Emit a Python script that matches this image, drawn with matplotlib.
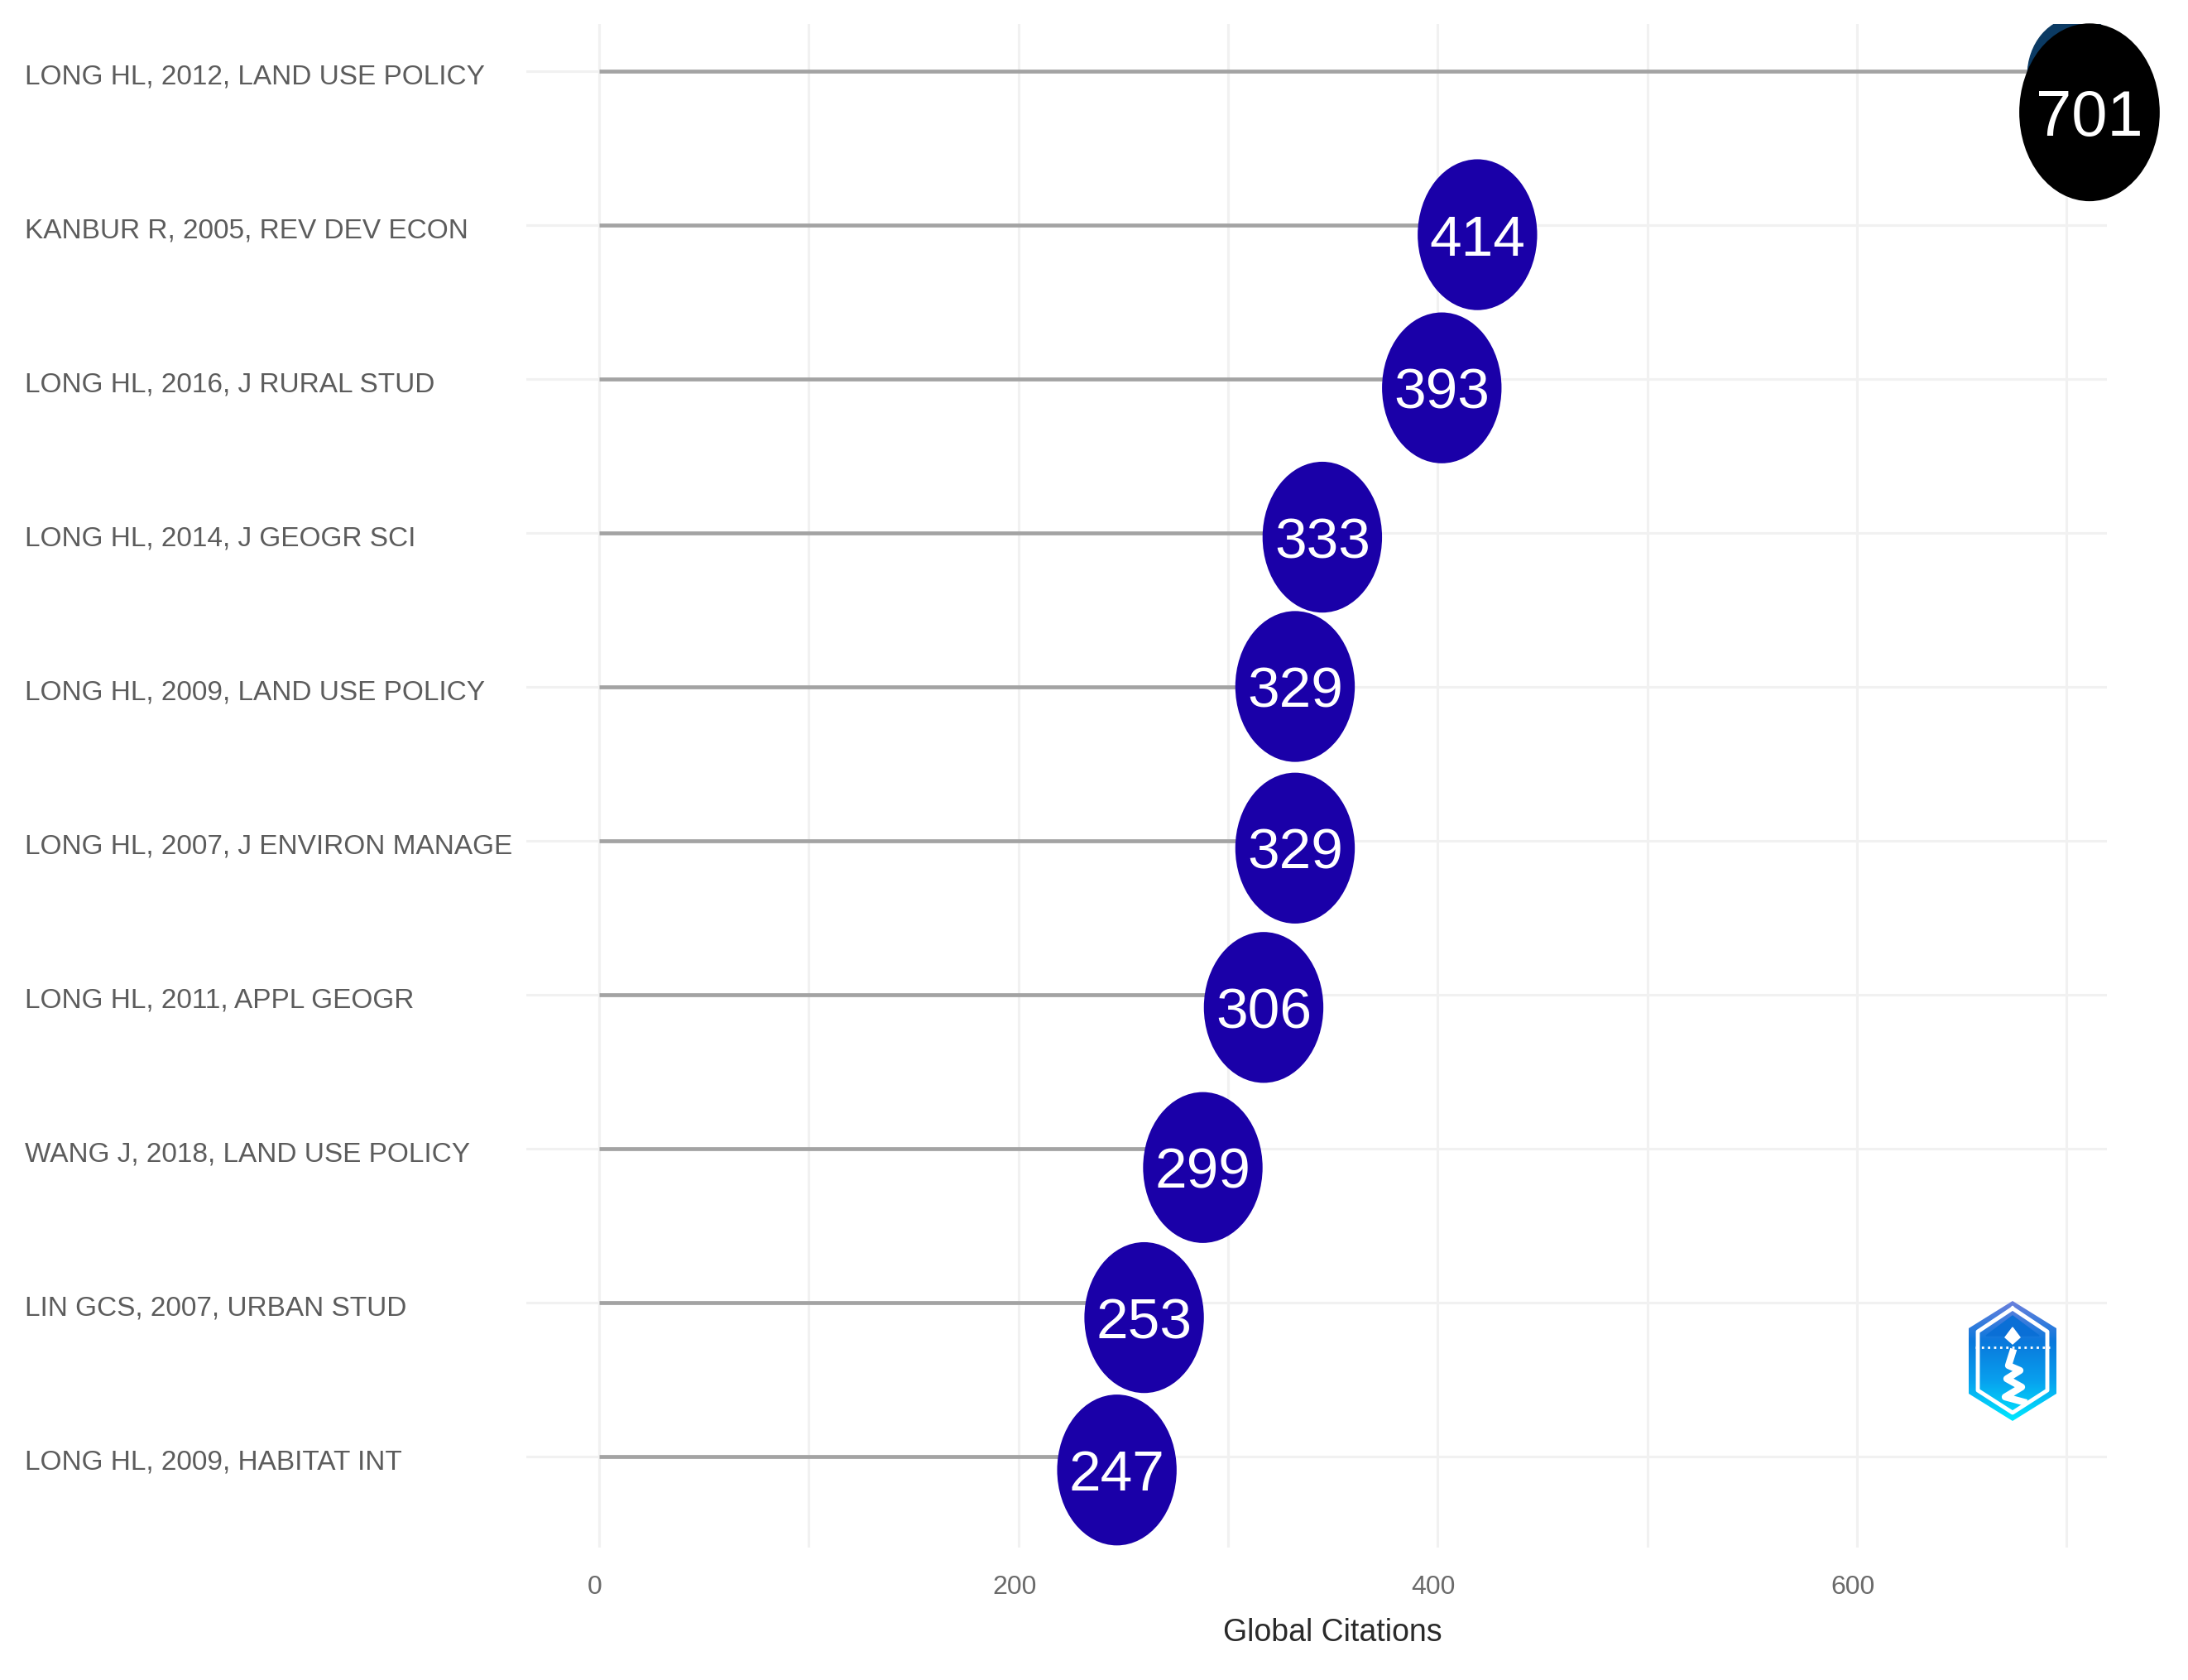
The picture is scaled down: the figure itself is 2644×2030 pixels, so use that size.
import matplotlib
matplotlib.use('Agg')
import matplotlib.pyplot as plt
import matplotlib.transforms as mtrans
from matplotlib.patches import Ellipse, Polygon
import numpy as np

papers = ['LONG HL, 2012, LAND USE POLICY', 'KANBUR R, 2005, REV DEV ECON',
          'LONG HL, 2016, J RURAL STUD', 'LONG HL, 2014, J GEOGR SCI',
          'LONG HL, 2009, LAND USE POLICY', 'LONG HL, 2007, J ENVIRON MANAGE',
          'LONG HL, 2011, APPL GEOGR', 'WANG J, 2018, LAND USE POLICY',
          'LIN GCS, 2007, URBAN STUD', 'LONG HL, 2009, HABITAT INT']
citations = [701, 414, 393, 333, 329, 329, 306, 299, 253, 247]
# where the bubbles sit on the axis, they do not quite line up with the printed value
bubble_x = [711, 419, 402, 345, 332, 332, 317, 288, 260, 247]
bubble_drop = [0.27, 0.065, 0.06, 0.03, 0.0, 0.05, 0.085, 0.125, 0.10, 0.09]
x_ticks = [0, 200, 400, 600]

W, H = 2644, 2030
fig = plt.figure(figsize=(W / 100, H / 100), dpi=100, facecolor='white')
left, right, top, bottom = 636, 2546, 29, 1870
ax = fig.add_axes([left / W, 1 - bottom / H, (right - left) / W, (bottom - top) / H])

row_h = 186
ax.set_xlim((left - 724) / 2.533, (right - 724) / 2.533)
ax.set_ylim((bottom - 85.5) / row_h, (top - 85.5) / row_h)
for s in ax.spines.values():
    s.set_visible(False)

rows = np.arange(len(papers))

ax.set_axisbelow(True)
ax.set_xticks(np.arange(0, 701, 100))
ax.set_xticklabels(['' if v not in x_ticks else str(v) for v in range(0, 701, 100)],
                   fontsize=23, color='#6a6a6a', family='Liberation Sans')
ax.set_yticks(rows)
ax.set_yticklabels(papers, fontsize=24, color='#5c5c5c', ha='left', family='Liberation Sans')
ax.tick_params(axis='y', length=0, pad=(left - 30) * 0.72)
ax.tick_params(axis='x', length=0, pad=24)
ax.grid(True, color='#f1f1f1', linewidth=2.2)

shift = mtrans.ScaledTranslation(-5 / 100, 0, fig.dpi_scale_trans)
for label in ax.get_xticklabels():
    label.set_transform(label.get_transform() + shift)
down = mtrans.ScaledTranslation(0, -4 / 100, fig.dpi_scale_trans)
for label in ax.get_yticklabels():
    label.set_transform(label.get_transform() + down)

for i in rows:
    ax.plot([0, bubble_x[i]], [i, i], color='#a3a3a3', linewidth=3.4, solid_capstyle='butt', zorder=2)

# dark sliver peeking out behind the top bubble
ax.add_patch(Ellipse((705, 0.03), 47, 0.75, color='#0b3a63', zorder=3))

for i in rows:
    big = citations[i] == max(citations)
    ax.add_patch(Ellipse((bubble_x[i], i + bubble_drop[i]), 67 if big else 57, 1.155 if big else 0.98,
                         facecolor='black' if big else '#1a00a8', edgecolor='none',
                         zorder=4, clip_on=False))
    ax.text(bubble_x[i], i + bubble_drop[i], str(citations[i]), color='white',
            fontsize=56 if big else 50, family='Liberation Sans', ha='center', va='center_baseline',
            zorder=5, clip_on=False)

ax.set_xlabel('Global Citations', fontsize=27, color='#2a2a2a', family='Liberation Sans')
ax.xaxis.set_label_coords((1610 - left) / (right - left), 1 - (1973 - top) / (bottom - top))
ax.xaxis.label.set_va('center')

# logo bottom right
logo = fig.add_axes([2379 / W, 1 - 1717 / H, 106 / W, 145 / H])
logo.set_xlim(0, 106)
logo.set_ylim(145, 0)
logo.axis('off')
outer = Polygon([(53, 0), (106, 33), (106, 112), (53, 145), (0, 112), (0, 33)], closed=True,
                facecolor='none', edgecolor='none')
logo.add_patch(outer)
grad = np.linspace(0, 1, 100).reshape(-1, 1)
cmap = matplotlib.colors.LinearSegmentedColormap.from_list('logo', ['#6a80dc', '#0a78dc', '#08a0ee', '#00e8ff'])
im = logo.imshow(grad, cmap=cmap, extent=[0, 106, 145, 0], aspect='auto')
im.set_clip_path(outer)
logo.plot([53, 95, 95, 53, 11, 11, 53], [9, 37, 108, 135, 108, 37, 9], color='white', linewidth=3.5)
logo.fill([53, 85, 21], [18, 42, 42], color='#0a6fd6')
logo.fill([53, 62, 53, 44], [32, 44, 52, 44], color='white')
logo.plot([8, 98], [56, 56], color='white', linewidth=2, linestyle=':')
logo.plot([53, 48, 62, 46, 64, 44, 66], [62, 78, 84, 94, 104, 116, 122], color='white', linewidth=6)

fig.savefig('out.png', dpi=100, facecolor='white')
